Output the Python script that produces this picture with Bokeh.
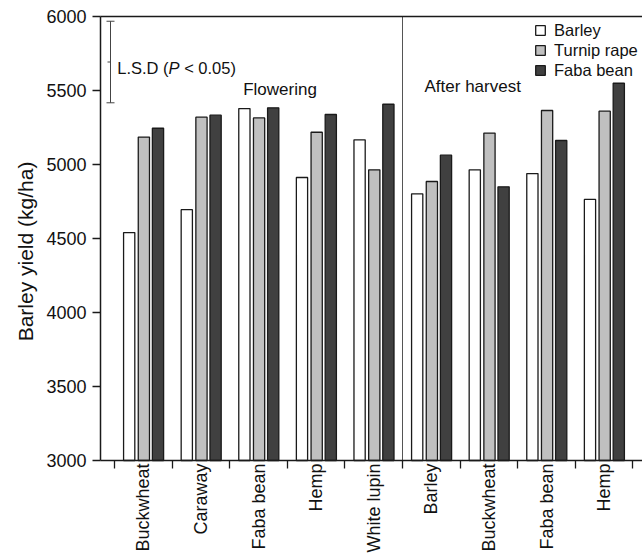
import math
from bokeh.plotting import figure
from bokeh.models import FixedTicker, LinearAxis, Range1d, Label, Legend, LegendItem
from bokeh.core.properties import value
from bokeh.embed import file_html
from bokeh.resources import INLINE

# ---- data ----
groups = ["Buckwheat", "Caraway", "Faba bean", "Hemp", "White lupin",
          "Barley", "Buckwheat", "Faba bean", "Hemp"]
stages = ["Flowering"] * 5 + ["After harvest"] * 4
barley = [4540, 4695, 5378, 4912, 5167, 4802, 4964, 4939, 4764]
turnip_rape = [5185, 5320, 5315, 5218, 4964, 4885, 5212, 5365, 5360]
faba_bean = [5245, 5333, 5383, 5338, 5407, 5063, 4849, 5162, 5549]
lsd_low, lsd_high = 5417, 5968
y_ticks = [3000, 3500, 4000, 4500, 5000, 5500, 6000]
y_min, y_max = 3000, 6000

# ---- layout constants (pixels) ----
FONT = "Liberation Sans"
TXT = "#111111"
W, H = 642, 554
PX = 57.6            # pixels per group
PY = 444 / 3000      # pixels per kg/ha
AX_X = 100           # page x of the y axis
G0_X = 114           # page x of first group boundary
TOP_Y = 16           # page y of 6000

# the frame covers the whole canvas; axes are drawn at fixed locations inside it
x_start = (0 - G0_X) / PX
x_end = (W - G0_X) / PX
x_axis = (AX_X - G0_X) / PX
y_top = y_max + TOP_Y / PY
y_bot = y_max - (H - TOP_Y) / PY

p = figure(width=W, height=H, output_backend="svg", toolbar_location=None,
           x_range=Range1d(x_start, x_end), y_range=Range1d(y_bot, y_top),
           min_border_left=0, min_border_right=0, min_border_top=0, min_border_bottom=0)
p.outline_line_color = None
p.xgrid.visible = False
p.ygrid.visible = False
p.background_fill_color = "white"
p.border_fill_color = "white"

idx = list(range(len(groups)))
series = [("Barley", barley, "white", -0.245),
          ("Turnip rape", turnip_rape, "#c0c0c0", 0.01),
          ("Faba bean", faba_bean, "#404040", 0.255)]
items = []
for name, vals, color, off in series:
    xs = [i + 0.5 + off for i in idx]
    r = p.vbar(x=xs, top=vals, bottom=y_min, width=0.195, fill_color=color,
               line_color="#1a1a1a", line_width=1.3)
    items.append(LegendItem(label=name, renderers=[r]))

legend = Legend(items=items, location=(534, 474), glyph_width=12, glyph_height=12,
                label_standoff=8, spacing=0, padding=0, margin=0, label_height=20,
                border_line_color=None, background_fill_alpha=0,
                label_text_font=FONT, label_text_font_size="16.5px", label_text_color=TXT)
p.add_layout(legend)

# y axis (fixed at the left edge of the plotting area)
yax = p.yaxis[0]
yax.fixed_location = x_axis
yax.bounds = (y_min, y_max)
yax.ticker = FixedTicker(ticks=y_ticks)
yax.major_label_text_font = FONT
yax.major_label_text_font_size = "18px"
yax.major_label_text_color = TXT
yax.major_label_standoff = 6
yax.major_tick_out = 8
yax.major_tick_in = 0
yax.minor_tick_out = 0
yax.minor_tick_in = 0
yax.axis_line_width = 1.5
yax.major_tick_line_width = 1.3
yax.axis_line_color = "#1a1a1a"
yax.major_tick_line_color = "#1a1a1a"

# x axis: line and ticks at group boundaries
xax = p.xaxis[0]
xax.fixed_location = y_min
xax.bounds = (x_axis, x_end)
xax.ticker = FixedTicker(ticks=[], minor_ticks=list(range(len(groups) + 1)))
xax.major_label_text_font_size = "0px"
xax.major_tick_out = 0
xax.major_tick_in = 0
xax.minor_tick_out = 8
xax.minor_tick_in = 0
xax.minor_tick_line_width = 1.3
xax.minor_tick_line_color = "#1a1a1a"
xax.axis_line_width = 1.5
xax.axis_line_color = "#1a1a1a"

# top frame line
top = LinearAxis(fixed_location=y_max, bounds=(x_axis, x_end),
                 ticker=FixedTicker(ticks=[]), major_label_text_font_size="0px",
                 major_tick_out=0, major_tick_in=0, minor_tick_out=0, minor_tick_in=0,
                 major_label_standoff=0, axis_line_width=1.5, axis_line_color="#1a1a1a")
p.add_layout(top, "above")

# group labels under the axis, reading bottom-to-top, ending just below the axis
p.text(x=[i + 0.5 for i in idx], y=[y_min - 3 / PY] * len(groups), text=groups,
       angle=math.pi / 2, text_align="right", text_baseline="middle",
       text_font=value(FONT), text_font_size=value("18px"), text_color=TXT)

# y axis title
p.text(x=[(25 - G0_X) / PX], y=[y_max - (251 - TOP_Y) / PY], text=["Barley yield (kg/ha)"],
       angle=math.pi / 2, text_align="center", text_baseline="middle",
       text_font=value(FONT), text_font_size=value("21px"), text_color=TXT)

# stage separator
split = stages.index("After harvest")
p.segment(x0=[split], y0=[y_min], x1=[split], y1=[y_max], line_color="#555555", line_width=1)

# stage labels
p.add_layout(Label(x=2.234, y=5507, text="Flowering", text_font=FONT, text_font_size="17px",
                   text_color=TXT, text_baseline="alphabetic"))
p.add_layout(Label(x=5.382, y=5527, text="After harvest", text_font=FONT, text_font_size="17px",
                   text_color=TXT, text_baseline="alphabetic"))

# LSD bar
lsd_x = -4 / PX
cap = 4 / PX
mid = (lsd_low + lsd_high) / 2
p.segment(x0=[lsd_x, lsd_x - cap, lsd_x - cap, lsd_x - 3 / PX],
          y0=[lsd_low, lsd_low, lsd_high, mid],
          x1=[lsd_x, lsd_x + cap, lsd_x + cap, lsd_x],
          y1=[lsd_high, lsd_low, lsd_high, mid],
          line_color="#444444", line_width=1)
fs = 16.5
lx, ly = 2.7 / PX, 5653
p.add_layout(Label(x=lx, y=ly, text="L.S.D (", text_font=FONT, text_font_size=f"{fs}px",
                   text_color=TXT, text_baseline="alphabetic"))
p.add_layout(Label(x=lx, y=ly, x_offset=3.112 * fs, text="P", text_font=FONT,
                   text_font_size=f"{fs}px", text_font_style="italic",
                   text_color=TXT, text_baseline="alphabetic"))
p.add_layout(Label(x=lx, y=ly, x_offset=(3.112 + 0.667 + 0.278) * fs, text="< 0.05)",
                   text_font=FONT, text_font_size=f"{fs}px",
                   text_color=TXT, text_baseline="alphabetic"))

open("out.html", "w").write(file_html(p, INLINE))
